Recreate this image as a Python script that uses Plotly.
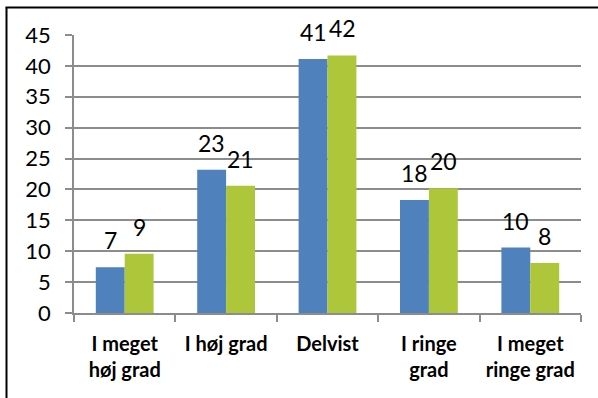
import plotly.graph_objects as go

categories = ["I meget<br>høj grad", "I høj grad", "Delvist", "I ringe<br>grad", "I meget<br>ringe grad"]
series_a = [7.4, 23.2, 41.1, 18.3, 10.6]
series_b = [9.6, 20.6, 41.7, 20.2, 8.1]
labels_a = ["7", "23", "41", "18", "10"]
labels_b = ["9", "21", "42", "20", "8"]
y_ticks = [0, 5, 10, 15, 20, 25, 30, 35, 40, 45]

BLUE = "#4F81BD"
GREEN = "#ADC63A"
GRID = "#8C8C8C"
FONT = "Lato"

fig = go.Figure()
fig.add_trace(go.Bar(x=categories, y=series_a, marker=dict(color=BLUE, line=dict(width=0))))
fig.add_trace(go.Bar(x=categories, y=series_b, marker=dict(color=GREEN, line=dict(width=0))))

annotations = []
for cat, v, t in zip(categories, series_a, labels_a):
    annotations.append(dict(x=cat, y=v, xref="x", yref="y", text=t, showarrow=False,
                            xshift=-14.5, yshift=11, yanchor="bottom",
                            font=dict(family=FONT, size=23, color="black")))
for cat, v, t in zip(categories, series_b, labels_b):
    annotations.append(dict(x=cat, y=v, xref="x", yref="y", text=t, showarrow=False,
                            xshift=14.5, yshift=11, yanchor="bottom",
                            font=dict(family=FONT, size=23, color="black")))

px_x = lambda p: (p - 74) / 507
px_y = lambda p: (313 - p) / 278

fig.update_layout(
    width=598, height=398,
    margin=dict(l=74, r=17, t=35, b=85, autoexpand=False),
    paper_bgcolor="white", plot_bgcolor="white",
    showlegend=False,
    barmode="group", bargap=0.43, bargroupgap=0,
    font=dict(family=FONT, size=22, color="black"),
    annotations=annotations,
    shapes=[
        dict(type="line", xref="paper", yref="paper",
             x0=px_x(5.5), x1=px_x(598), y0=px_y(7.5), y1=px_y(7.5),
             line=dict(color="black", width=2)),
        dict(type="line", xref="paper", yref="paper",
             x0=px_x(6.5), x1=px_x(6.5), y0=px_y(7.5), y1=px_y(398),
             line=dict(color="black", width=2)),
    ],
)
fig.update_xaxes(
    showline=True, linecolor=GRID, linewidth=1.5,
    ticks="outside", tickson="boundaries", ticklen=7, tickcolor=GRID, tickwidth=1.5,
    tickfont=dict(family=FONT, size=20, color="black", weight="bold"),
    showgrid=False,
    ticklabelstandoff=12,
)
fig.update_yaxes(
    range=[0, 45], tickvals=y_ticks,
    showline=True, linecolor=GRID, linewidth=1.5,
    ticks="outside", ticklen=7, tickcolor=GRID, tickwidth=1.5,
    showgrid=True, gridcolor=GRID, gridwidth=1.5,
    zeroline=False,
    tickfont=dict(family=FONT, size=22, color="black"),
    ticklabelstandoff=10,
)

fig.write_html("out.html", config={"displayModeBar": False},
               post_script="document.body.style.margin='0';document.body.style.overflow='hidden';")
